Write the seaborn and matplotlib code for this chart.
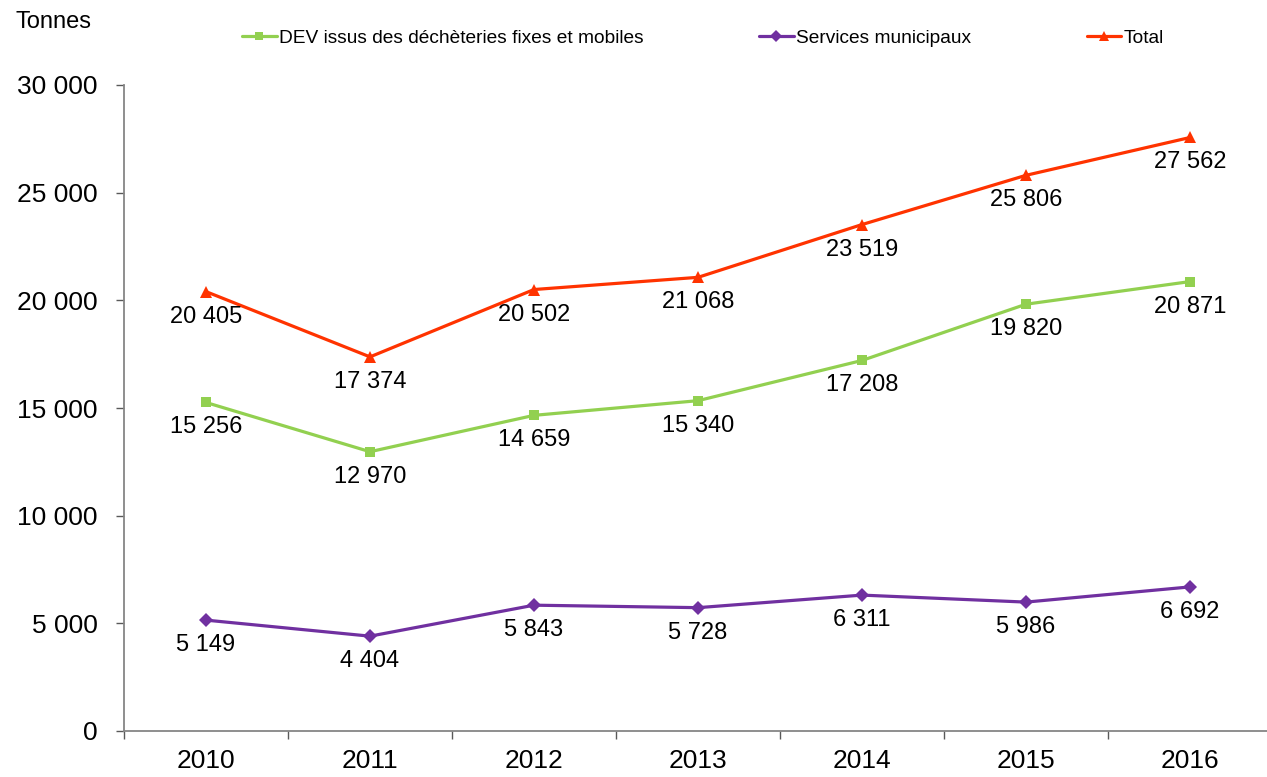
import matplotlib
matplotlib.use("Agg")
import matplotlib.pyplot as plt
import matplotlib.ticker as mticker
import pandas as pd
import seaborn as sns

years = ["2010", "2011", "2012", "2013", "2014", "2015", "2016"]
dev = [15256, 12970, 14659, 15340, 17208, 19820, 20871]
services = [5149, 4404, 5843, 5728, 6311, 5986, 6692]
total = [20405, 17374, 20502, 21068, 23519, 25806, 27562]

series_names = [
    "DEV issus des déchèteries fixes et mobiles",
    "Services municipaux",
    "Total",
]

sns.set_style("white")
plt.rcParams["font.family"] = ["Liberation Sans", "DejaVu Sans"]
plt.rcParams["text.color"] = "black"

fig = plt.figure(figsize=(12.67, 7.77), dpi=100)
ax = fig.add_axes([124 / 1267, 46 / 777, 1148 / 1267, 646 / 777])

styles = [
    (dev, "#92D050", "s", 7),
    (services, "#7030A0", "D", 7),
    (total, "#FF3300", "^", 8),
]

x_pos = list(range(len(years)))
for (vals, color, marker, ms), name in zip(styles, series_names):
    df = pd.DataFrame({"x": x_pos, "y": vals})
    sns.lineplot(
        data=df, x="x", y="y", ax=ax,
        color=color, linewidth=2.3, marker=marker, markersize=ms,
        markeredgewidth=0, label=name,
    )
    for xi, v in zip(x_pos, vals):
        ax.annotate(
            f"{v:,}".replace(",", " "), (xi, v),
            xytext=(0, -25), textcoords="offset pixels",
            ha="center", va="center", fontsize=17, color="black",
        )

ax.set_xlim(-0.5, len(years) - 0.5)
ax.set_ylim(0, 30000)
ax.set_xlabel("")
ax.set_ylabel("")

ax.set_xticks(x_pos)
ax.set_xticklabels(years)
ax.set_xticks([i - 0.5 for i in range(len(years) + 1)], minor=True)
ax.tick_params(axis="x", which="major", length=0, pad=13, labelsize=19,
               labelcolor="black")
ax.tick_params(axis="x", which="minor", length=6, width=1, color="#595959",
               direction="out", bottom=True)

ax.yaxis.set_major_locator(mticker.MultipleLocator(5000))
ax.yaxis.set_major_formatter(
    mticker.FuncFormatter(lambda v, p: f"{v:,.0f}".replace(",", " "))
)
ax.tick_params(axis="y", which="major", length=6, width=1, color="#595959",
               direction="out", left=True, pad=13, labelsize=19,
               labelcolor="black")

for side in ["top", "right"]:
    ax.spines[side].set_visible(False)
for side in ["left", "bottom"]:
    ax.spines[side].set_color("#868686")
    ax.spines[side].set_linewidth(1.3)

ax.get_legend().remove()
handles, labels = ax.get_legend_handles_labels()
fig.legend(
    handles, labels, loc="center", bbox_to_anchor=(0.555, 0.951),
    ncol=3, frameon=False, fontsize=13.8, handlelength=1.8,
    handletextpad=0.15, columnspacing=6.0, markerscale=0.85,
    labelcolor="black",
)

fig.text(15 / 1267, 1 - 22 / 777, "Tonnes", fontsize=17, va="center",
         ha="left", color="black")

fig.savefig("out.png", dpi=100)
